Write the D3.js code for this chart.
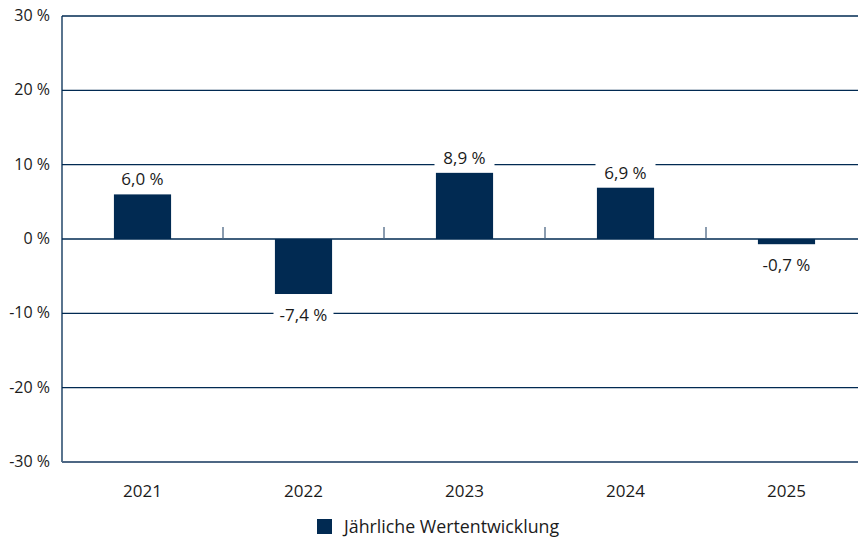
<!DOCTYPE html>
<html>
<head>
<meta charset="utf-8">
<script src="https://cdn.jsdelivr.net/npm/d3@7"></script>
<style>
  body { margin: 0; background: #fff; }
  svg text { font-family: "Open Sans", "Noto Sans", sans-serif; fill: #1b1b1b; }
</style>
</head>
<body>
<div id="chart"></div>
<script>
// data
const years = ["2021", "2022", "2023", "2024", "2025"];
const values = [6.0, -7.4, 8.9, 6.9, -0.7];
const yTicks = [-30, -20, -10, 0, 10, 20, 30];
const seriesName = "Jährliche Wertentwicklung";

const width = 858, height = 539;
const navy = "#012a52";
const margin = { top: 16, right: -9, bottom: 77, left: 62 };

const svg = d3.select("#chart").append("svg")
    .attr("width", width)
    .attr("height", height);

let x = d3.scaleBand()
    .domain(years)
    .range([margin.left, width - margin.right])
    .padding(0);

let y = d3.scaleLinear()
    .domain([-30, 30])
    .range([height - margin.bottom, margin.top]);

let fmt = v => d3.format(".1f")(v).replace(".", ",").replace("−", "-") + " %";

// gridlines
svg.append("g").selectAll("line")
    .data(yTicks.filter(d => d !== -30))
    .join("line")
    .attr("x1", margin.left)
    .attr("x2", width)
    .attr("y1", d => y(d))
    .attr("y2", d => y(d))
    .attr("stroke", navy)
    .attr("stroke-width", 1.3);

// y axis labels
svg.append("g").selectAll("text")
    .data(yTicks)
    .join("text")
    .attr("x", 50)
    .attr("y", d => y(d) + 5)
    .attr("text-anchor", "end")
    .style("font-size", "16px")
    .text(d => d + " %");

// left axis line
svg.append("line")
    .attr("x1", margin.left).attr("x2", margin.left)
    .attr("y1", y(30)).attr("y2", y(-30))
    .attr("stroke", navy).attr("stroke-width", 1.3);

// bottom axis line
svg.append("line")
    .attr("x1", margin.left).attr("x2", width)
    .attr("y1", y(-30)).attr("y2", y(-30))
    .attr("stroke", "#4d6784").attr("stroke-width", 2);

// category separators on zero line
svg.append("g").selectAll("line")
    .data(years.slice(1))
    .join("line")
    .attr("x1", d => x(d))
    .attr("x2", d => x(d))
    .attr("y1", y(0) - 12)
    .attr("y2", y(0))
    .attr("stroke", "#4d6784")
    .attr("stroke-width", 1.3);

// bars
let barW = x.bandwidth() * 0.355;
let data = years.map((yr, i) => ({ year: yr, value: values[i] }));

svg.append("g").selectAll("rect")
    .data(data)
    .join("rect")
    .attr("x", d => x(d.year) + x.bandwidth() / 2 - barW / 2)
    .attr("y", d => y(Math.max(0, d.value)))
    .attr("width", barW)
    .attr("height", d => Math.abs(y(d.value) - y(0)))
    .attr("fill", navy);

// value labels with white backing
let labels = svg.append("g").selectAll("g")
    .data(data)
    .join("g")
    .attr("transform", d => {
        let cx = x(d.year) + x.bandwidth() / 2;
        let cy = d.value >= 0 ? y(d.value) - 15 : y(d.value) + 21;
        return `translate(${cx},${cy})`;
    });

labels.append("rect")
    .attr("x", -30)
    .attr("y", -12)
    .attr("width", 60)
    .attr("height", 24)
    .attr("fill", "#fff");

labels.append("text")
    .attr("text-anchor", "middle")
    .attr("y", 6)
    .style("font-size", "17px")
    .text(d => fmt(d.value));

// x labels
svg.append("g").selectAll("text")
    .data(years)
    .join("text")
    .attr("x", d => x(d) + x.bandwidth() / 2)
    .attr("y", 497)
    .attr("text-anchor", "middle")
    .style("font-size", "17px")
    .text(d => d);

// legend
let legend = svg.append("g").attr("transform", "translate(317,519)");
legend.append("rect")
    .attr("width", 15).attr("height", 15)
    .attr("fill", navy);
legend.append("text")
    .attr("x", 27)
    .attr("y", 14)
    .style("font-size", "17.8px")
    .text(seriesName);
</script>
</body>
</html>
